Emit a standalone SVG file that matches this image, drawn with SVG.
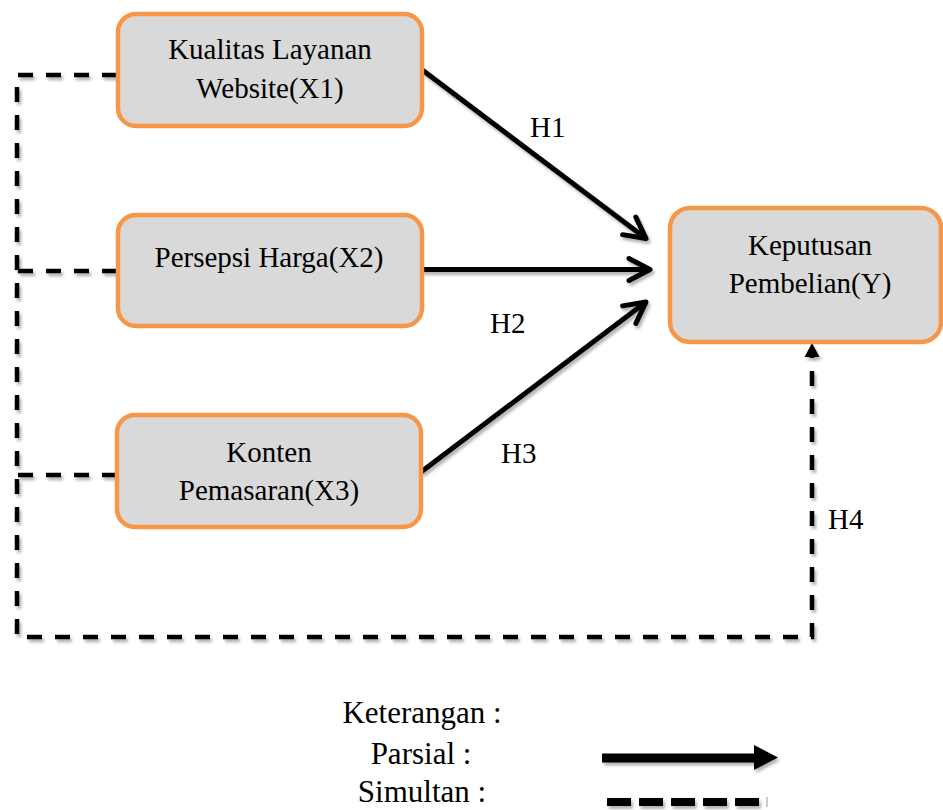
<svg xmlns="http://www.w3.org/2000/svg" width="943" height="810" viewBox="0 0 943 810">
  <defs>
    <style>
      .box { fill: #D9D9D9; stroke: #F79646; stroke-width: 4.5; }
      .lbl { font-family: "Liberation Serif", "Times New Roman", serif; font-size: 29px; fill: #000; text-anchor: middle; }
      .hl { font-family: "Liberation Serif", "Times New Roman", serif; font-size: 29px; fill: #000; }
      .leg { font-family: "Liberation Serif", "Times New Roman", serif; font-size: 31px; fill: #000; text-anchor: middle; }
      .solid { fill: none; stroke: #000; stroke-width: 5; }
      .dash { fill: none; stroke: #000; stroke-width: 4.5; stroke-dasharray: 15 13; }
    </style>
    <filter id="sh" x="-10%" y="-10%" width="130%" height="130%">
      <feDropShadow dx="2" dy="3" stdDeviation="1.8" flood-color="#000" flood-opacity="0.3"/>
    </filter>
    <marker id="open" markerUnits="userSpaceOnUse" viewBox="-26 -16 30 32" refX="0" refY="0" markerWidth="30" markerHeight="32" orient="auto">
      <path d="M-21,-11 L0,0 L-21,11" fill="none" stroke="#000" stroke-width="5" stroke-linecap="round" stroke-linejoin="round"/>
    </marker>
  </defs>

  <g id="connectors" filter="url(#sh)">
    <path class="dash" d="M117,75 H17 V637 H812 V356"/>
    <path class="dash" d="M117,271 H17"/>
    <path class="dash" d="M117,475 H17"/>
    <polygon points="812,343 804.5,357 819.5,357" fill="#000"/>
    <line class="solid" x1="421" y1="69" x2="646" y2="238.5" marker-end="url(#open)"/>
    <line class="solid" x1="421" y1="269.5" x2="650" y2="269.5" marker-end="url(#open)"/>
    <line class="solid" x1="421" y1="472" x2="646" y2="302" marker-end="url(#open)"/>
  </g>

  <g id="x1">
    <rect class="box" x="118" y="14" width="304" height="112" rx="18"/>
    <text class="lbl" x="270" y="59">Kualitas Layanan</text>
    <text class="lbl" x="270" y="98">Website(X1)</text>
  </g>
  <g id="x2">
    <rect class="box" x="118" y="215" width="304" height="111" rx="18"/>
    <text class="lbl" x="269" y="267">Persepsi Harga(X2)</text>
  </g>
  <g id="x3">
    <rect class="box" x="117" y="415" width="304" height="112" rx="18"/>
    <text class="lbl" x="269" y="462">Konten</text>
    <text class="lbl" x="269" y="500">Pemasaran(X3)</text>
  </g>
  <g id="y">
    <rect class="box" x="670" y="208" width="271" height="134" rx="20"/>
    <text class="lbl" x="810" y="255">Keputusan</text>
    <text class="lbl" x="810" y="293">Pembelian(Y)</text>
  </g>

  <g id="labels">
    <text class="hl" x="530" y="137">H1</text>
    <text class="hl" x="490" y="333">H2</text>
    <text class="hl" x="501" y="463">H3</text>
    <text class="hl" x="828" y="529">H4</text>
  </g>

  <g id="legend">
    <text class="leg" x="422" y="723">Keterangan :</text>
    <text class="leg" x="421" y="764">Parsial :</text>
    <text class="leg" x="422" y="802">Simultan :</text>
    <g filter="url(#sh)">
      <line x1="602" y1="758" x2="756" y2="758" stroke="#000" stroke-width="9"/>
      <polygon points="754,745 778,757.5 754,770" fill="#000"/>
      <line x1="607" y1="802" x2="759" y2="802" stroke="#000" stroke-width="8" stroke-dasharray="24 8"/>
    </g>
    <line x1="767" y1="797" x2="767" y2="807" stroke="#999" stroke-width="1"/>
  </g>
</svg>
